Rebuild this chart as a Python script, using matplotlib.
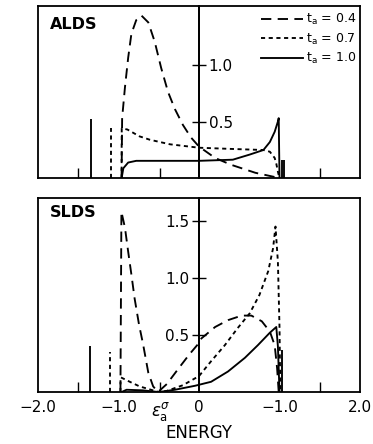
import matplotlib
matplotlib.use("Agg")
import matplotlib.pyplot as plt

# ---------- data ----------

# ALDS panel (top)
alds_x04 = [-0.962, -0.955, -0.92, -0.88, -0.84, -0.78, -0.715, -0.63, -0.55,
            -0.47, -0.385, -0.30, -0.20, -0.10, 0.0, 0.20, 0.40, 0.70, 0.96, 1.0]
alds_y04 = [0.0, 0.53, 0.80, 1.06, 1.27, 1.39, 1.43, 1.37, 1.20,
            0.97, 0.76, 0.61, 0.47, 0.36, 0.28, 0.18, 0.12, 0.05, 0.01, 0.0]

alds_x07 = [-0.962, -0.96, -0.89, -0.74, -0.61, -0.36, 0.0, 0.38, 0.80,
            0.88, 0.94, 0.96, 0.98, 1.0]
alds_y07 = [0.0, 0.44, 0.43, 0.37, 0.34, 0.30, 0.27, 0.26, 0.25,
            0.235, 0.18, 0.13, 0.06, 0.0]

alds_x10 = [-0.962, -0.94, -0.88, -0.78, 0.0, 0.42, 0.63, 0.80, 0.88,
            0.94, 0.98, 0.99, 1.0]
alds_y10 = [0.0, 0.09, 0.14, 0.155, 0.155, 0.165, 0.21, 0.25, 0.32,
            0.41, 0.50, 0.53, 0.0]

# delta-like spikes (position, height, style)
alds_spike_x = [-1.345, -1.096, 1.035, 1.06]
alds_spike_h = [0.52, 0.44, 0.16, 0.16]
alds_spike_t = ["1.0", "0.7", "1.0", "1.0"]

# SLDS panel (bottom)
slds_x04 = [-0.976, -0.964, -0.92, -0.88, -0.84, -0.80, -0.745, -0.695, -0.63,
            -0.57, -0.51, -0.40, -0.24, -0.12, 0.0, 0.03, 0.20, 0.36, 0.53,
            0.65, 0.78, 0.88, 0.94, 0.97, 0.99]
slds_y04 = [0.0, 1.58, 1.44, 1.23, 1.03, 0.82, 0.59, 0.42, 0.17,
            0.05, 0.0, 0.07, 0.22, 0.33, 0.43, 0.47, 0.57, 0.63, 0.67,
            0.67, 0.62, 0.53, 0.41, 0.21, 0.0]

slds_x07 = [-0.976, -0.975, -0.86, -0.74, -0.50, -0.40, -0.20, 0.0, 0.15,
            0.32, 0.48, 0.63, 0.75, 0.86, 0.92, 0.95, 0.98, 1.0, 1.01]
slds_y07 = [0.0, 0.13, 0.09, 0.05, 0.0, 0.01, 0.06, 0.14, 0.27,
            0.41, 0.56, 0.69, 0.85, 1.06, 1.26, 1.45, 1.14, 0.56, 0.0]

slds_x10 = [-0.962, -0.90, -0.70, -0.50, -0.30, -0.05, 0.15, 0.36, 0.57,
            0.73, 0.88, 0.96, 0.98, 1.0]
slds_y10 = [0.0, 0.02, 0.015, 0.0, 0.02, 0.055, 0.09, 0.18, 0.30,
            0.41, 0.52, 0.57, 0.40, 0.0]

slds_spike_x = [-1.357, -1.10, 1.035]
slds_spike_h = [0.40, 0.35, 0.37]
slds_spike_t = ["1.0", "0.7", "1.0"]

# labelled positions along the energy axis, and the small inward ticks
x_ticks = [-2.0, -1.0, -0.48, 0.0, 1.0, 2.0]
x_ticklabels = ["\u22122.0", "\u22121.0", r"$\epsilon_{\rm a}^{\sigma}$",
                "0", "\u22121.0", "2.0"]
x_minor = [-1.5, -0.48, 1.5]

alds_yticks = [0.5, 1.0]
slds_yticks = [0.5, 1.0, 1.5]

# ---------- styles ----------
LW = 1.35
STYLE = {
    "0.4": dict(color="black", lw=LW, linestyle=(0, (5.5, 3.4))),
    "0.7": dict(color="black", lw=LW, linestyle=(0, (2.2, 1.9))),
    "1.0": dict(color="black", lw=LW, linestyle="-"),
}

plt.rcParams["font.family"] = "DejaVu Sans"

fig = plt.figure(figsize=(3.73, 4.44), dpi=100)
ax_top = fig.add_axes([0.1019, 0.598, 0.8633, 0.389])
ax_bot = fig.add_axes([0.1019, 0.117, 0.8633, 0.437])


def style_panel(ax, ymax, yticks, side, name, name_y):
    ax.set_xlim(-2.0, 2.0)
    ax.set_ylim(0, ymax)
    ax.set_yticks([])
    for sp in ax.spines.values():
        sp.set_linewidth(1.3)
    ax.set_xticks(x_ticks)
    ax.set_xticks(x_minor, minor=True)
    ax.xaxis.remove_overlapping_locs = False
    ax.tick_params(axis="x", which="major", length=0)
    ax.tick_params(axis="x", which="minor", direction="in", length=7, width=1.0)
    ax.axvline(0, color="black", lw=1.3)
    sec = ax.secondary_yaxis(0.5)
    if side == "left":
        sec.set_alignment("left")
    for sp in sec.spines.values():
        sp.set_linewidth(1.3)
    sec.set_yticks(yticks)
    sec.set_yticklabels([f"{v:.1f}" for v in yticks])
    sec.tick_params(axis="y", direction="inout", length=10, width=1.0,
                    labelsize=11, pad=2)
    ax.text(0.037, name_y, name, transform=ax.transAxes, ha="left", va="top",
            fontsize=11.5, fontweight="bold")


style_panel(ax_top, 1.516, alds_yticks, "right", "ALDS", 0.936)
style_panel(ax_bot, 1.70, slds_yticks, "left", "SLDS", 0.964)

# top panel curves
h04, = ax_top.plot(alds_x04, alds_y04, **STYLE["0.4"])
h07, = ax_top.plot(alds_x07, alds_y07, **STYLE["0.7"])
h10, = ax_top.plot(alds_x10, alds_y10, **STYLE["1.0"])
for x, h, t in zip(alds_spike_x, alds_spike_h, alds_spike_t):
    ax_top.vlines(x, 0, h, **STYLE[t])
ax_top.set_xticklabels([])

# bottom panel curves
ax_bot.plot(slds_x04, slds_y04, **STYLE["0.4"])
ax_bot.plot(slds_x07, slds_y07, **STYLE["0.7"])
ax_bot.plot(slds_x10, slds_y10, **STYLE["1.0"])
for x, h, t in zip(slds_spike_x, slds_spike_h, slds_spike_t):
    ax_bot.vlines(x, 0, h, **STYLE[t])
ax_bot.set_xticklabels(x_ticklabels, fontsize=11)
ax_bot.tick_params(axis="x", which="major", pad=6)
for lab in ax_bot.get_xticklabels():
    if "epsilon" in lab.get_text():
        lab.set_fontsize(12)

leg = ax_top.legend(
    [h04, h07, h10],
    [r"t$_{\rm a}$ = 0.4", r"t$_{\rm a}$ = 0.7", r"t$_{\rm a}$ = 1.0"],
    loc="upper right", bbox_to_anchor=(1.0, 0.985), frameon=False,
    fontsize=9, handlelength=3.4, handletextpad=0.2, labelspacing=0.35,
    borderaxespad=0.2, borderpad=0.1,
)

fig.text(0.534, 1 - 433 / 444, "ENERGY", ha="center", va="center", fontsize=12)

fig.savefig("out.png", dpi=100)
